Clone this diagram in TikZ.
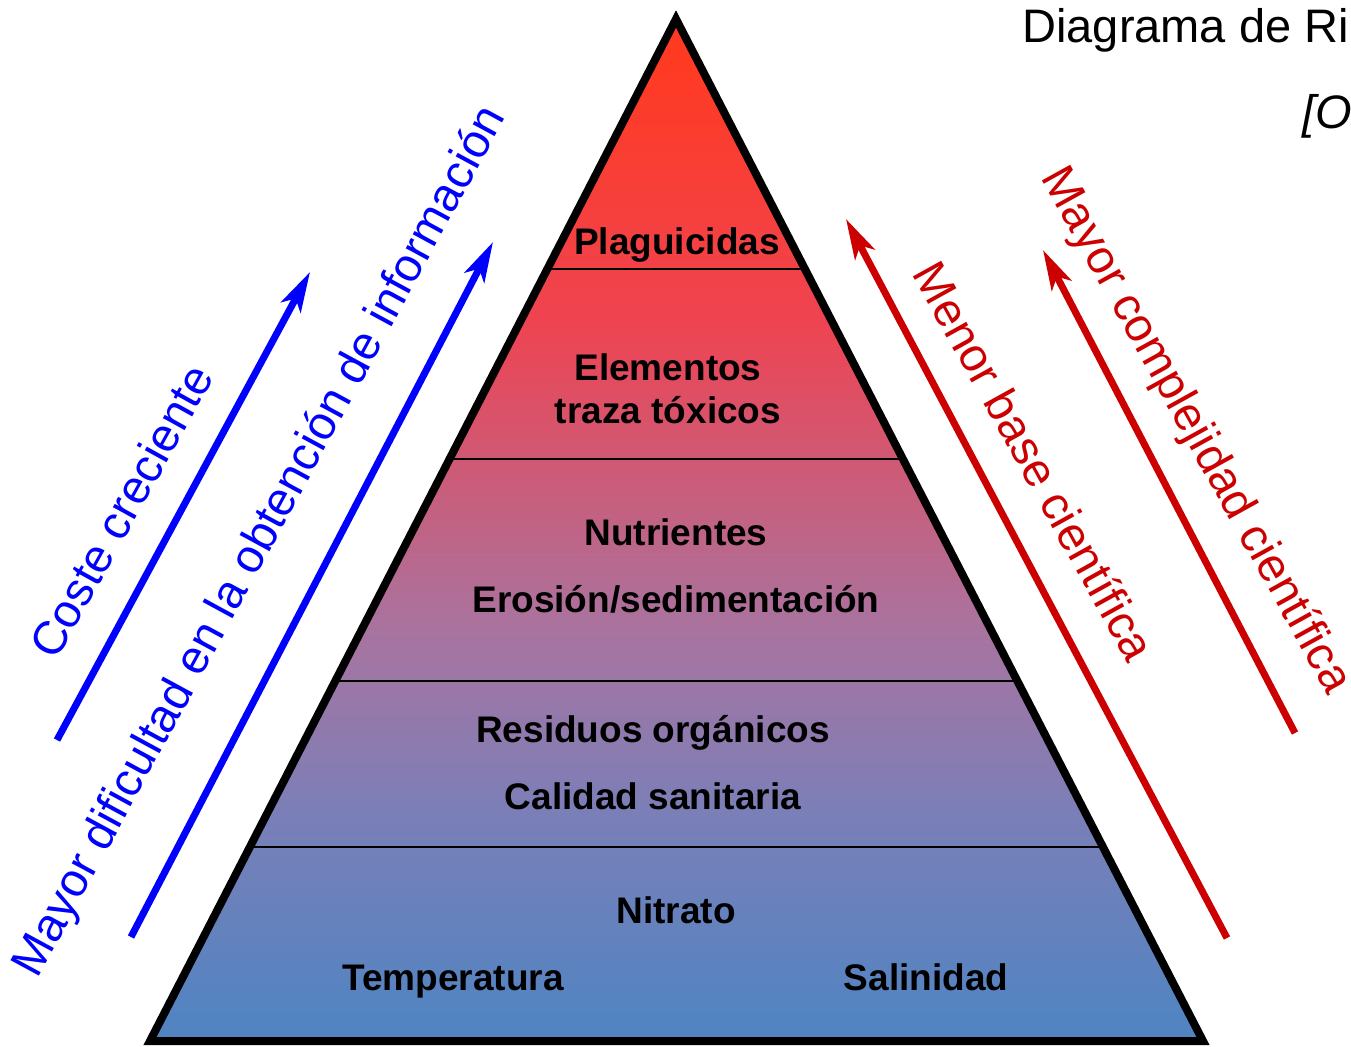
\documentclass[tikz,border=0pt]{standalone}
\usepackage{fontspec}
\setmainfont{Liberation Sans}
\usetikzlibrary{arrows.meta,calc}

\definecolor{pyrA}{HTML}{5284C2}
\definecolor{pyrB}{HTML}{7A7FB8}
\definecolor{pyrC}{HTML}{A874A0}
\definecolor{pyrD}{HTML}{EE4452}
\definecolor{pyrE}{HTML}{FF3A22}
\definecolor{arrblue}{HTML}{0000FF}
\definecolor{arrred}{HTML}{CC0000}

% bottom of the pyramid sits at 25bp, apex at 75bp
\pgfdeclareverticalshading{pyramid}{100bp}{color(0bp)=(pyrA); color(26bp)=(pyrA);
  color(36bp)=(pyrB); color(45bp)=(pyrC); color(60bp)=(pyrD); color(73bp)=(pyrE);
  color(100bp)=(pyrE)}

\tikzset{
  lbl/.style={font=\bfseries\fontsize{18.5}{20}\selectfont, inner sep=0pt,
    text height=13.2pt, text depth=0pt},
  side/.style={font=\fontsize{23.5}{26}\selectfont, inner sep=0pt},
  bigarrow/.style={line width=3.5pt, -{Stealth[length=20pt, width=11pt, inset=5pt]}},
}

\begin{document}
\begin{tikzpicture}[x=0.5pt, y=-0.5pt]
  \clip (0,0) rectangle (1351,1046);
  \fill[white] (0,0) rectangle (1351,1046);

  \coordinate (apex) at (676,19);
  \coordinate (bl) at (150,1041);
  \coordinate (br) at (1203,1041);

  % pyramid body
  \shade[shading=pyramid] (apex) -- (bl) -- (br) -- cycle;
  \foreach \t in {0.2446,0.4305,0.6477,0.8102}
    \draw[line width=0.6pt] ($(apex)!\t!(bl)$) -- ($(apex)!\t!(br)$);
  \draw[line width=4pt, line join=miter] (apex) -- (bl) -- (br) -- cycle;

  % levels
  \node[lbl] (plag) at (677,241) {Plaguicidas};
  \node[lbl] (elem) at (668,367) {Elementos};
  \node[lbl] (traza) at (668,410) {traza tóxicos};
  \node[lbl] (nutr) at (676,532) {Nutrientes};
  \node[lbl] (eros) at (676,599) {Erosión/sedimentación};
  \node[lbl] (resid) at (653,729) {Residuos orgánicos};
  \node[lbl] (calid) at (653,796) {Calidad sanitaria};
  \node[lbl] (nitr) at (676,910) {Nitrato};
  \node[lbl] (temp) at (453,977) {Temperatura};
  \node[lbl] (salin) at (926,977) {Salinidad};

  % title (cut at the border)
  \node[side, anchor=base west] (title) at (1022,42) {Diagrama de Ri};
  \node[side, anchor=base west] (source) at (1302,128) {\itshape [O};

  % left side arrows
  \coordinate (b1s) at (57,740);
  \coordinate (b1e) at (310,272);
  \coordinate (b2s) at (131,937);
  \coordinate (b2e) at (493,242);
  \draw[bigarrow, arrblue] (b1s) -- (b1e);
  \draw[bigarrow, arrblue] (b2s) -- (b2e);
  \node[side, text=arrblue, rotate=61] (coste) at (121,511) {Coste creciente};
  \node[side, text=arrblue, rotate=61.5] (dific) at (261,542) {Mayor dificultad en la obtención de información};

  % right side arrows
  \coordinate (r1s) at (1227,938);
  \coordinate (r1e) at (846,219);
  \coordinate (r2s) at (1295,733);
  \coordinate (r2e) at (1043,250);
  \draw[bigarrow, arrred] (r1s) -- (r1e);
  \draw[bigarrow, arrred] (r2s) -- (r2e);
  \node[side, text=arrred, rotate=-61] (menor) at (1035,461) {Menor base científica};
  \node[side, text=arrred, rotate=-61] (compl) at (1195,431) {Mayor complejidad científica};
\end{tikzpicture}
\end{document}
